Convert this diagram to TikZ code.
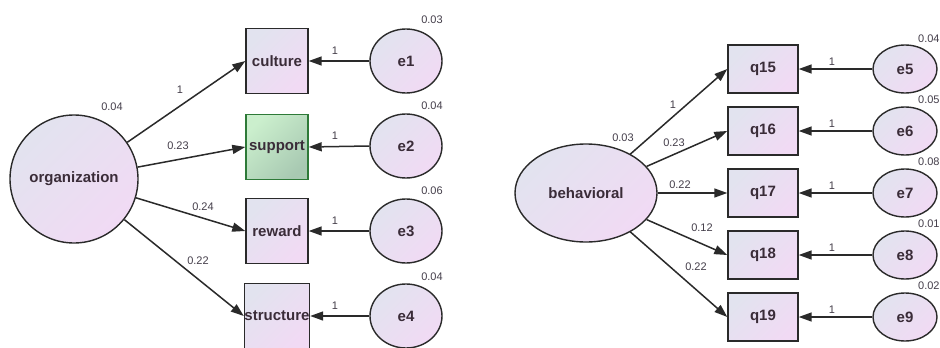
\documentclass[tikz,border=0pt]{standalone}
\usepackage{fontspec}
\setmainfont{Liberation Sans}
\usetikzlibrary{arrows.meta,shapes.geometric}
\definecolor{lineC}{HTML}{2A2A2A}
\definecolor{txtC}{HTML}{3A2C38}
\definecolor{smallC}{HTML}{443E4A}
\definecolor{fillA}{HTML}{E2E3EF}
\definecolor{fillB}{HTML}{F1DAF4}
\definecolor{grA}{HTML}{CBEFCD}
\definecolor{grB}{HTML}{A8C9B2}
\definecolor{grD}{HTML}{2E7A38}
\tikzset{
  base/.style={draw=lineC, line width=1.4pt, inner sep=0pt, text=txtC,
    font=\fontsize{15}{18}\selectfont\bfseries,
    top color=fillA, bottom color=fillB, shading angle=45},
  latc/.style={base, circle, minimum size=128pt},
  latell/.style={base, ellipse, minimum width=142pt, minimum height=98pt},
  obsL/.style={base, rectangle, minimum width=62pt, minimum height=65pt},
  obsR/.style={base, rectangle, minimum width=70pt, minimum height=48pt},
  errL/.style={base, ellipse, minimum width=72pt, minimum height=64pt},
  errR/.style={base, ellipse, minimum width=64pt, minimum height=48pt},
  greenbox/.style={draw=grD, top color=grA, bottom color=grB, shading angle=45},
  lbl/.style={inner sep=0pt, text=smallC, font=\fontsize{11}{13}\selectfont},
  arr/.style={draw=lineC, line width=1.5pt, -{Triangle[length=13pt,width=9pt]}}
}
\begin{document}
\begin{tikzpicture}[x=1pt,y=-1pt]
\useasboundingbox (0,0) rectangle (940,348);
\clip (0,0) rectangle (940,348);
\fill[white] (0,0) rectangle (940,348);
% ---- left model
\node[latc] (org) at (74,179) {organization};
\node[obsL] (cul) at (277,61) {culture};
\node[obsL, greenbox] (sup) at (277,147) {support};
\node[obsL] (rew) at (277,231) {reward};
\node[obsL] (str) at (277,316) {structure};
\node[errL] (e1) at (406,61) {e1};
\node[errL] (e2) at (406,146) {e2};
\node[errL] (e3) at (406,231) {e3};
\node[errL] (e4) at (406,316) {e4};
\node[lbl] (vorg) at (112,107) {0.04};
\node[lbl] (v1) at (432,20) {0.03};
\node[lbl] (v2) at (432,106) {0.04};
\node[lbl] (v3) at (432,191) {0.06};
\node[lbl] (v4) at (432,277) {0.04};
\draw[arr] (org) -- (cul.west);
\draw[arr] (org) -- (sup.west);
\draw[arr] (org) -- (rew.west);
\draw[arr] (org) -- (str.west);
\draw[arr] (e1.west) -- (cul.east);
\draw[arr] (e2.west) -- (sup.east);
\draw[arr] (e3.west) -- (rew.east);
\draw[arr] (e4.west) -- (str.east);
\node[lbl] (l1) at (180,90) {1};
\node[lbl] (l2) at (178,146) {0.23};
\node[lbl] (l3) at (203,207) {0.24};
\node[lbl] (l4) at (198,261) {0.22};
\node[lbl] (f1) at (335,51) {1};
\node[lbl] (f2) at (335,136) {1};
\node[lbl] (f3) at (335,221) {1};
\node[lbl] (f4) at (335,306) {1};
% ---- right model
\node[latell] (beh) at (586,193) {behavioral};
\node[obsR] (q15) at (763,69) {q15};
\node[obsR] (q16) at (763,131) {q16};
\node[obsR] (q17) at (763,193) {q17};
\node[obsR] (q18) at (763,255) {q18};
\node[obsR] (q19) at (763,317) {q19};
\node[errR] (e5) at (905,69) {e5};
\node[errR] (e6) at (905,131) {e6};
\node[errR] (e7) at (905,193) {e7};
\node[errR] (e8) at (905,255) {e8};
\node[errR] (e9) at (905,317) {e9};
\node[lbl] (vbeh) at (623,138) {0.03};
\node[lbl, anchor=west] (v5) at (918,39) {0.04};
\node[lbl, anchor=west] (v6) at (918,100) {0.05};
\node[lbl, anchor=west] (v7) at (918,162) {0.08};
\node[lbl, anchor=west] (v8) at (918,224) {0.01};
\node[lbl, anchor=west] (v9) at (918,286) {0.02};
\draw[arr] (beh) -- (q15.west);
\draw[arr] (beh) -- (q16.west);
\draw[arr] (beh) -- (q17.west);
\draw[arr] (beh) -- (q18.west);
\draw[arr] (beh) -- (q19.west);
\draw[arr] (e5.west) -- (q15.east);
\draw[arr] (e6.west) -- (q16.east);
\draw[arr] (e7.west) -- (q17.east);
\draw[arr] (e8.west) -- (q18.east);
\draw[arr] (e9.west) -- (q19.east);
\node[lbl] (m1) at (673,105) {1};
\node[lbl] (m2) at (674,143) {0.23};
\node[lbl] (m3) at (680,185) {0.22};
\node[lbl] (m4) at (702,228) {0.12};
\node[lbl] (m5) at (696,267) {0.22};
\node[lbl] (g5) at (832,62) {1};
\node[lbl] (g6) at (832,124) {1};
\node[lbl] (g7) at (832,186) {1};
\node[lbl] (g8) at (832,248) {1};
\node[lbl] (g9) at (832,310) {1};
\end{tikzpicture}
\end{document}
